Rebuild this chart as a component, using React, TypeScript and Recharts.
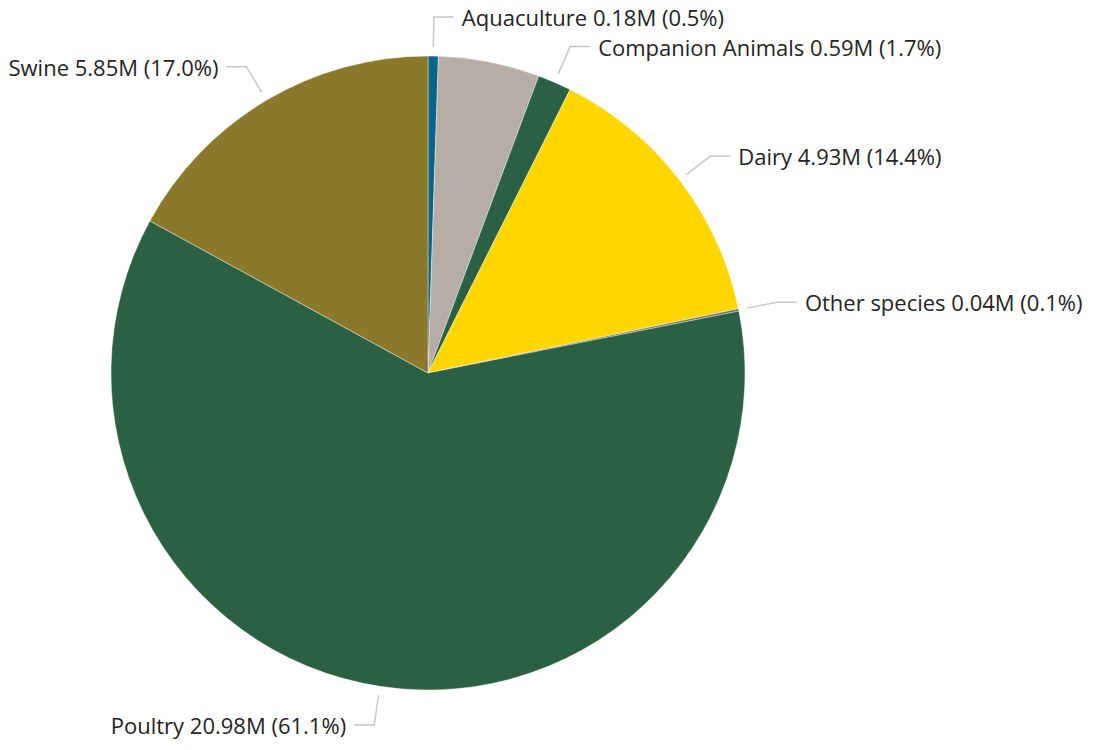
import React from "react";
import { PieChart, Pie, Cell } from "recharts";

const categories = ["Aquaculture", "Beef", "Companion Animals", "Dairy", "Other species", "Poultry", "Swine"];
const values = [0.18, 1.77, 0.59, 4.93, 0.04, 20.98, 5.85];
const colors = ["#0B6387", "#B6ADA5", "#2B6142", "#FFD700", "#6E6E6E", "#2B6142", "#8A792B"];
const showLabel = [true, false, true, true, true, true, true];

const data = categories.map((name, i) => ({ name, value: values[i] }));
const total = values.reduce((a, b) => a + b, 0);

const RAD = Math.PI / 180;

const renderLabel = (props: any) => {
  const { cx, cy, midAngle, outerRadius, index, value, name } = props;
  if (!showLabel[index]) return null;
  const cos = Math.cos(-midAngle * RAD);
  const sin = Math.sin(-midAngle * RAD);
  const sx = cx + (outerRadius + 9) * cos;
  const sy = cy + (outerRadius + 9) * sin;
  const mx = cx + (outerRadius + 39) * cos;
  const my = cy + (outerRadius + 39) * sin;
  const right = cos >= 0;
  const ex = mx + (right ? 20 : -20);
  const tx = ex + (right ? 8 : -8);
  const pct = ((value / total) * 100).toFixed(1);
  return (
    <g>
      <polyline
        points={`${sx},${sy} ${mx},${my} ${ex},${my}`}
        fill="none"
        stroke="#C8C8C8"
        strokeWidth={1.5}
      />
      <text
        x={tx}
        y={my}
        textAnchor={right ? "start" : "end"}
        dominantBaseline="central"
        fill="#252423"
        fontSize={22}
        fontFamily="'Open Sans', 'Noto Sans', sans-serif"
      >
        {`${name} ${value.toFixed(2)}M (${pct}%)`}
      </text>
    </g>
  );
};

export default function App() {
  return (
    <div style={{ margin: -8, width: 1094, height: 750 }}>
      <PieChart width={1094} height={750}>
        <Pie
          data={data}
          dataKey="value"
          nameKey="name"
          cx={423}
          cy={368}
          outerRadius={317}
          startAngle={90}
          endAngle={-270}
          stroke="#ffffff"
          strokeWidth={0.4}
          label={renderLabel}
          labelLine={false}
          isAnimationActive={false}
        >
          {data.map((d, i) => (
            <Cell key={d.name} fill={colors[i]} />
          ))}
        </Pie>
      </PieChart>
    </div>
  );
}
